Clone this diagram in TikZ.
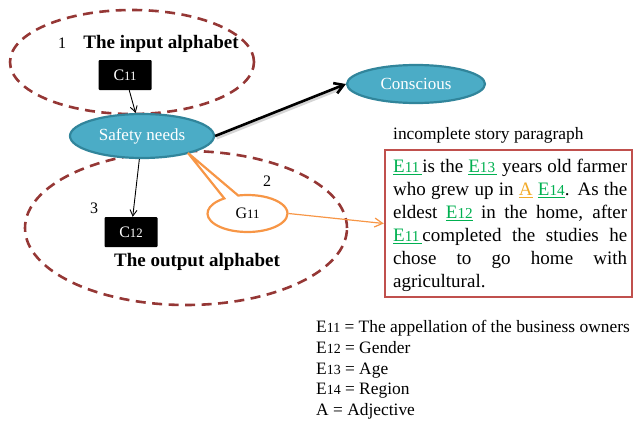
\documentclass[tikz,border=0pt]{standalone}
\usepackage{fontspec}
\setmainfont{Liberation Serif}
\usetikzlibrary{arrows.meta,shapes.geometric,shapes.callouts}

\definecolor{ringred}{RGB}{149,55,53}
\definecolor{tealfill}{RGB}{75,172,198}
\definecolor{tealline}{RGB}{49,133,155}
\definecolor{orangeline}{RGB}{247,150,70}
\definecolor{boxred}{RGB}{192,80,77}
\definecolor{entgreen}{RGB}{0,176,80}
\definecolor{adjamber}{RGB}{242,170,40}

% small index digits set on the baseline
\newcommand\lo[1]{\scalebox{0.8}{#1}}
% underlined entity marks in the story text
\newcommand\ent[2][0pt]{\textcolor{entgreen}{\underline{E\lo{#2}\kern#1}}}
\newcommand\adj{\textcolor{adjamber}{\underline{A}}}

\tikzset{
  ring/.style={draw=ringred, line width=2.6pt, dash pattern=on 10pt off 6.5pt,
    ellipse, inner sep=0pt},
  tealoval/.style={ellipse, draw=tealline, fill=tealfill, line width=2.2pt,
    text=white, inner sep=0pt, font=\fontsize{17}{20}\selectfont},
  blackbox/.style={rectangle, fill=black, text=white, minimum width=53pt,
    minimum height=30pt, inner sep=0pt, rounded corners=1pt,
    font=\fontsize{16}{19}\selectfont},
  heading/.style={font=\fontsize{19}{22}\selectfont\bfseries, inner sep=0pt},
  numlabel/.style={font=\fontsize{16}{19}\selectfont, inner sep=0pt},
  thin arrow/.style={-{Straight Barb[length=6pt,width=7pt]}, line width=0.9pt},
}

\begin{document}
\begin{tikzpicture}[x=1pt,y=-1pt]
\useasboundingbox (0,0) rectangle (635,423);

% dashed groups
\node[ring, minimum width=244pt, minimum height=104pt] (inring) at (132,62) {};
\node[ring, minimum width=322pt, minimum height=154pt] (outring) at (186,228) {};

% nodes
\node[tealoval, minimum width=144pt, minimum height=44pt] (safety) at (142,136) {Safety needs};
\node[tealoval, minimum width=138pt, minimum height=38pt] (conscious) at (416,84) {Conscious};
\node[blackbox] (c11) at (125,75) {C\lo{11}};
\node[blackbox] (c12) at (131,232) {C\lo{12}};
\coordinate (gtip) at (188,153);
\node[ellipse callout, draw=orangeline, fill=white, line width=2.2pt,
  minimum width=80pt, minimum height=37pt, inner sep=0pt,
  callout absolute pointer={(gtip)}, callout pointer arc=22,
  font=\fontsize{16}{19}\selectfont] (g11) at (247.5,213.5) {G\lo{11}};

% texts
\node[heading] (inhead) at (161,44) {The input alphabet};
\node[heading] (outhead) at (197,262) {The output alphabet};
\node[numlabel] (n1) at (62,43) {1};
\node[numlabel] (n2) at (267,181) {2};
\node[numlabel] (n3) at (94,208) {3};

% story paragraph
\node[anchor=west, inner sep=0pt, font=\fontsize{17.4}{20}\selectfont] (storyhead) at (393,135)
  {incomplete story paragraph};
\node[draw=boxred, line width=2.4pt, minimum width=247pt, minimum height=147pt,
  inner sep=0pt] (story) at (508.5,223.5) {};
\node[anchor=north west, inner sep=0pt, text width=234pt, align=justify,
  font=\fontsize{19}{23}\selectfont] (storytext) at (393,159)
  {\ent[3pt]{11}is the \ent[2pt]{13} years old farmer\linebreak
   who grew up in \adj{} \ent{14}. As the\linebreak
   eldest \ent{12} in the home, after\linebreak
   \ent[3pt]{11}completed the studies he\linebreak
   chose to go home with\linebreak
   agricultural.};

% legend
\node[anchor=north west, inner sep=0pt, align=left,
  font=\fontsize{17.4}{20.8}\selectfont] (legend) at (316,320)
  {E\lo{11} = The appellation of the business owners\\
   E\lo{12} = Gender\\
   E\lo{13} = Age\\
   E\lo{14} = Region\\
   A = Adjective};

% connectors
\draw[thin arrow] (c11) -- (safety);
\draw[thin arrow] (safety) -- (c12);
\draw[gray!55, line width=3pt, opacity=0.6, shorten >=8pt]
  ([xshift=1.5pt,yshift=-2pt]safety.east) -- ([xshift=1.5pt,yshift=-2pt]conscious.west);
\draw[-{Straight Barb[length=9pt,width=11pt]}, line width=2.6pt]
  (safety.east) -- (conscious.west);
\draw[-{Straight Barb[length=8pt,width=9pt]}, draw=orangeline, line width=1.2pt]
  (g11.east) -- (story.west);
\end{tikzpicture}
\end{document}
